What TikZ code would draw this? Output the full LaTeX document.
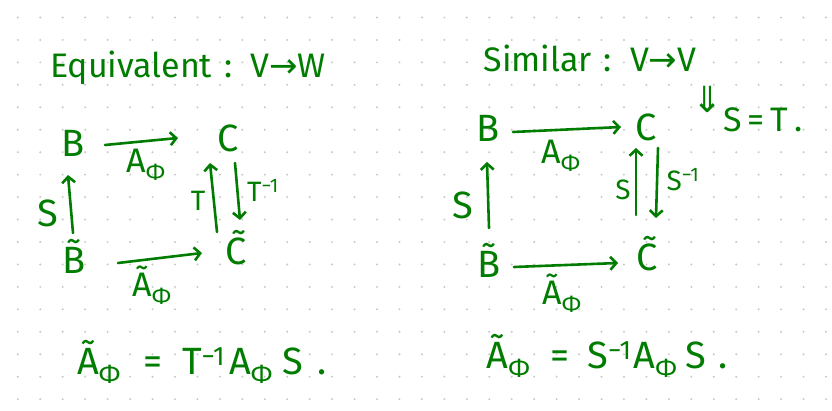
\documentclass[tikz,border=0pt]{standalone}
\usepackage{fontspec}
\setmainfont{Fira Sans}
\newfontfamily\symf{DejaVu Sans}
\usetikzlibrary{arrows.meta}
\definecolor{ink}{RGB}{0,125,0}
\definecolor{dotc}{RGB}{200,200,200}
\tikzset{
  title/.style={text=ink, inner sep=0pt, font=\fontsize{34}{34}\selectfont},
  lbl/.style={text=ink, inner sep=0pt, font=\fontsize{38}{38}\selectfont},
  mid/.style={text=ink, inner sep=0pt, font=\fontsize{34}{34}\selectfont},
  sml/.style={text=ink, inner sep=0pt, font=\fontsize{28}{28}\selectfont},
  arr/.style={draw=ink, line width=2.6pt, line cap=round, line join=round,
    -{Straight Barb[length=6pt,width=13pt,line width=2.6pt]}},
}
\newcommand{\Aphi}{A\textsubscript{Φ}}
\newcommand{\Atphi}{\~A\textsubscript{Φ}}
\begin{document}
\begin{tikzpicture}[x=1pt,y=-1pt]
\useasboundingbox (0,0) rectangle (832,411);
\fill[white] (0,0) rectangle (832,411);
\foreach \i in {0,...,36}{\foreach \j in {0,...,17}{\fill[dotc] ({17.8+22.45*\i},{17.5+22.45*\j}) circle (1.1);}}

% titles
\node[title] (t1) at (188,68) {Equivalent\hspace{12pt}:\hspace{18pt}V{\symf →}W};
\node[title] (t2) at (590,58) {Similar\hspace{12pt}:\hspace{18pt}V{\symf →}V};
\node[text=ink, inner sep=0pt, font=\fontsize{36}{36}\selectfont] (imp) at (708,99) {{\symf ⇓}};
\node[mid] (st) at (763,120) {S\,=\,T\hspace{6pt}.};

% left diagram
\node[lbl] (B1) at (73,143) {B};
\node[lbl] (C1) at (228,138) {C};
\node[lbl] (Bt1) at (74,256) {\~B};
\node[lbl] (Ct1) at (236,248) {\~C};
\draw[arr] ([shift={(32,2)}]B1.center) -- ([shift={(-50,0)}]C1.center);
\draw[arr] ([shift={(-1,-23)}]Bt1.center) -- ([shift={(-5,32)}]B1.center);
\draw[arr] ([shift={(-19,-16)}]Ct1.center) -- ([shift={(-18,25)}]C1.center);
\draw[arr] ([shift={(7,25)}]C1.center) -- ([shift={(4,-28)}]Ct1.center);
\draw[arr] ([shift={(44,7)}]Bt1.center) -- ([shift={(-34,5)}]Ct1.center);
\node[mid] (a1) at (146,165) {\Aphi};
\node[lbl] (s1) at (48,213) {S};
\node[sml] (T1) at (198,201) {T};
\node[sml] (Ti1) at (263,190) {T\textsuperscript{−1}};
\node[mid] (at1) at (152,285) {\Atphi};
\node[lbl] (eq1) at (202,362) {\Atphi\hspace{22pt}=\hspace{20pt}T\textsuperscript{−1}\hspace{4pt}\Aphi\hspace{10pt}S\hspace{14pt}.};

% right diagram
\node[lbl] (B2) at (488,128) {B};
\node[lbl] (C2) at (646,127) {C};
\node[lbl] (Bt2) at (489,260) {\~B};
\node[lbl] (Ct2) at (647,254) {\~C};
\draw[arr] ([shift={(25,4)}]B2.center) -- ([shift={(-25,0)}]C2.center);
\draw[arr] ([shift={(0,-32)}]Bt2.center) -- ([shift={(-1,34)}]B2.center);
\draw[arr] ([shift={(-11,-39)}]Ct2.center) -- ([shift={(-10,21)}]C2.center);
\draw[arr] ([shift={(12,21)}]C2.center) -- ([shift={(9,-36)}]Ct2.center);
\draw[arr] ([shift={(25,7)}]Bt2.center) -- ([shift={(-29,9)}]Ct2.center);
\node[mid] (a2) at (561,156) {\Aphi};
\node[lbl] (s2) at (463,205) {S};
\node[sml] (s3) at (623,190) {S};
\node[sml] (si2) at (683,180) {S\textsuperscript{−1}};
\node[mid] (at2) at (562,293) {\Atphi};
\node[lbl] (eq2) at (607,356) {\Atphi\hspace{20pt}=\hspace{18pt}S\textsuperscript{−1}\hspace{2pt}\Aphi\hspace{8pt}S\hspace{12pt}.};
\end{tikzpicture}
\end{document}
